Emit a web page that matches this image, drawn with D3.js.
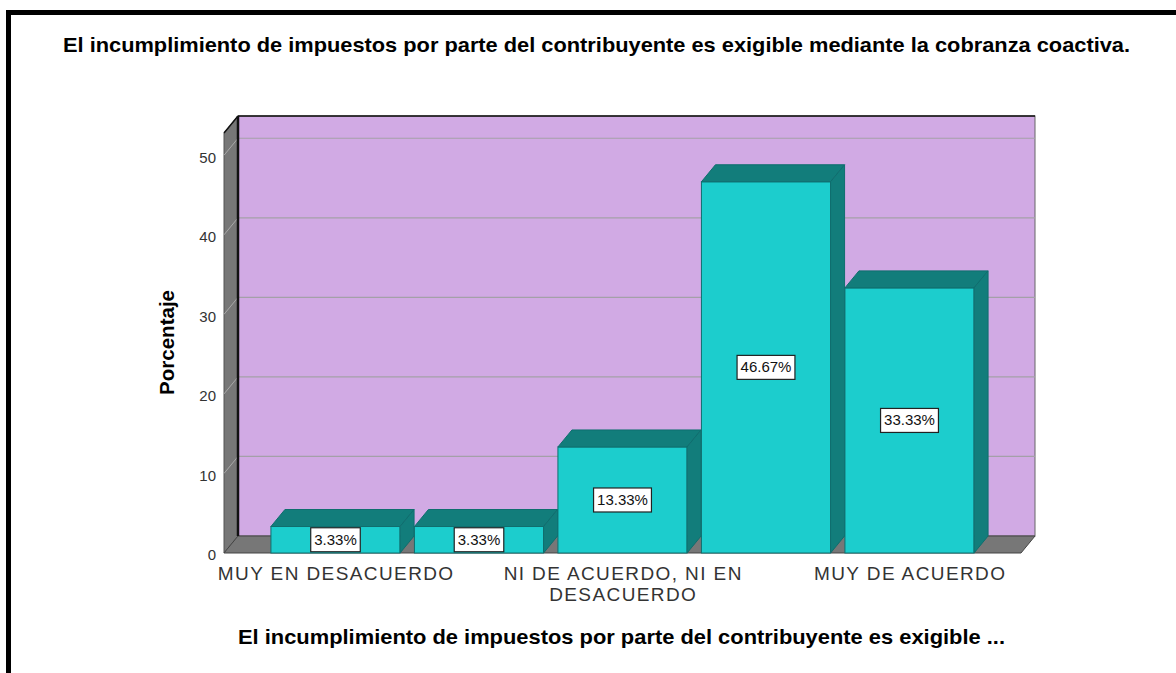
<!DOCTYPE html>
<html>
<head>
<meta charset="utf-8">
<script src="https://cdn.jsdelivr.net/npm/d3@7"></script>
<style>
  body { margin: 0; background: #fff; }
  svg { display: block; font-family: Arial, "Liberation Sans", sans-serif; }
</style>
</head>
<body>
<svg id="chart" width="1176" height="673"></svg>
<script>
// data
var categories = ["MUY EN DESACUERDO", "EN DESACUERDO", "NI DE ACUERDO, NI EN DESACUERDO", "DE ACUERDO", "MUY DE ACUERDO"];
var percents = [3.33, 3.33, 13.33, 46.67, 33.33];
var shownLabels = ["MUY EN DESACUERDO", "NI DE ACUERDO, NI EN DESACUERDO", "MUY DE ACUERDO"];
var yTicks = [0, 10, 20, 30, 40, 50];
var title = "El incumplimiento de impuestos por parte del contribuyente es exigible mediante la cobranza coactiva.";
var xTitle = "El incumplimiento de impuestos por parte del contribuyente es exigible ...";
var yTitle = "Porcentaje";

var svg = d3.select("#chart");

// frame
svg.append("rect")
  .attr("x", 8.5).attr("y", 12.5)
  .attr("width", 1200).attr("height", 700)
  .attr("fill", "none").attr("stroke", "#000").attr("stroke-width", 5);

var x = d3.scaleBand().domain(categories).range([224, 1021])
  .paddingInner(0.1).paddingOuter(0.327);
var y = d3.scaleLinear().domain([0, 52.8]).range([553, 133]);
var dx = 14, dy = -17;   // depth of the 3D effect

var x0 = x.range()[0], x1 = x.range()[1],
    y0 = y(0), yTop = y(y.domain()[1]);

function pts(a) { return a.map(function(p){ return p.join(","); }).join(" "); }

// back wall
svg.append("rect")
  .attr("x", x0 + dx).attr("y", yTop + dy)
  .attr("width", x1 - x0).attr("height", y0 - yTop)
  .attr("fill", "#D1AAE4").attr("stroke", "#666").attr("stroke-width", 1);

// side wall
svg.append("polygon")
  .attr("points", pts([[x0, yTop], [x0 + dx, yTop + dy], [x0 + dx, y0 + dy], [x0, y0]]))
  .attr("fill", "#777").attr("stroke", "#555").attr("stroke-width", 1);

// floor
svg.append("polygon")
  .attr("points", pts([[x0, y0], [x0 + dx, y0 + dy], [x1 + dx, y0 + dy], [x1, y0]]))
  .attr("fill", "#777").attr("stroke", "#444").attr("stroke-width", 1);

// grid lines
var grid = svg.append("g");
yTicks.filter(function(t){ return t > 0; }).forEach(function(t){
  grid.append("line")
    .attr("x1", x0 + dx).attr("x2", x1 + dx)
    .attr("y1", y(t) + dy).attr("y2", y(t) + dy)
    .attr("stroke", "#A4A0A8").attr("stroke-width", 1.2);
  grid.append("line")
    .attr("x1", x0).attr("x2", x0 + dx)
    .attr("y1", y(t)).attr("y2", y(t) + dy)
    .attr("stroke", "#A8A8A8").attr("stroke-width", 1);
});

// dark edges of the wall
svg.append("line")
  .attr("x1", x0 + dx).attr("x2", x0 + dx)
  .attr("y1", yTop + dy).attr("y2", y0 + dy)
  .attr("stroke", "#111").attr("stroke-width", 2.5);
svg.append("line")
  .attr("x1", x0 + dx).attr("x2", x1 + dx)
  .attr("y1", yTop + dy).attr("y2", yTop + dy)
  .attr("stroke", "#111").attr("stroke-width", 1.5);
svg.append("line")
  .attr("x1", x0).attr("x2", x0 + dx)
  .attr("y1", yTop).attr("y2", yTop + dy)
  .attr("stroke", "#111").attr("stroke-width", 1.5);

// bars
var bars = svg.append("g").selectAll("g")
  .data(categories.map(function(c, i){ return {cat: c, v: percents[i]}; }))
  .join("g");

bars.each(function(d){
  var g = d3.select(this),
      bx = x(d.cat), w = x.bandwidth(),
      yt = y(d.v), yb = y(0);
  g.append("rect")
    .attr("x", bx).attr("y", yt).attr("width", w).attr("height", yb - yt)
    .attr("fill", "#1CCDCD").attr("stroke", "#0F6E6E").attr("stroke-width", 1);
  g.append("polygon")
    .attr("points", pts([[bx, yt], [bx + dx, yt + dy], [bx + w + dx, yt + dy], [bx + w, yt]]))
    .attr("fill", "#127D7B").attr("stroke", "#0F6E6E").attr("stroke-width", 1);
  g.append("polygon")
    .attr("points", pts([[bx + w, yt], [bx + w + dx, yt + dy], [bx + w + dx, yb + dy], [bx + w, yb]]))
    .attr("fill", "#127D7B").attr("stroke", "#0F6E6E").attr("stroke-width", 1);

  var cx = bx + w / 2, cy = (yt + yb) / 2;
  var lab = g.append("text")
    .attr("x", cx).attr("y", cy + 5)
    .attr("text-anchor", "middle")
    .attr("font-size", 15).attr("fill", "#111")
    .text(d.v.toFixed(2) + "%");
  var tw = lab.node().getComputedTextLength() + 7;
  g.insert("rect", "text")
    .attr("x", cx - tw / 2).attr("y", cy - 12)
    .attr("width", tw).attr("height", 24)
    .attr("fill", "#fff").attr("stroke", "#222").attr("stroke-width", 1.2);
});

// y axis labels
var yAxis = svg.append("g")
  .attr("transform", "translate(" + x0 + ",0)")
  .call(d3.axisLeft(y).tickValues(yTicks).tickSize(0).tickPadding(8));
yAxis.select(".domain").remove();
yAxis.selectAll("text")
  .attr("font-size", 15).attr("fill", "#333")
  .attr("dy", "0.45em")
  .style("font-family", "Arial, 'Liberation Sans', sans-serif");

// x axis labels (only every other category, long one wrapped)
var xAxis = svg.append("g")
  .attr("transform", "translate(0," + y0 + ")")
  .call(d3.axisBottom(x).tickValues(shownLabels).tickSize(0));
xAxis.select(".domain").remove();
xAxis.selectAll("text").each(function(d){
  var t = d3.select(this).text(null)
    .attr("y", 0).attr("dy", null)
    .attr("font-size", 19).attr("letter-spacing", 1.4).attr("fill", "#333")
    .style("font-family", "Arial, 'Liberation Sans', sans-serif");
  var lines = d === "NI DE ACUERDO, NI EN DESACUERDO" ? ["NI DE ACUERDO, NI EN", "DESACUERDO"] : [d];
  lines.forEach(function(l, i){
    t.append("tspan").attr("x", 0.7).attr("y", 27 + i * 21).text(l);
  });
});

// titles
svg.append("text")
  .attr("x", 596.5).attr("y", 52)
  .attr("text-anchor", "middle")
  .attr("font-size", 21).attr("font-weight", "bold").attr("fill", "#000")
  .attr("textLength", 1067).attr("lengthAdjust", "spacingAndGlyphs")
  .text(title);

svg.append("text")
  .attr("x", 621.5).attr("y", 644)
  .attr("text-anchor", "middle")
  .attr("font-size", 20.5).attr("font-weight", "bold").attr("fill", "#000")
  .attr("textLength", 767).attr("lengthAdjust", "spacingAndGlyphs")
  .text(xTitle);

svg.append("text")
  .attr("transform", "translate(174,342.5) rotate(-90)")
  .attr("text-anchor", "middle")
  .attr("font-size", 20).attr("font-weight", "bold").attr("fill", "#000")
  .attr("textLength", 105).attr("lengthAdjust", "spacingAndGlyphs")
  .text(yTitle);
</script>
</body>
</html>
